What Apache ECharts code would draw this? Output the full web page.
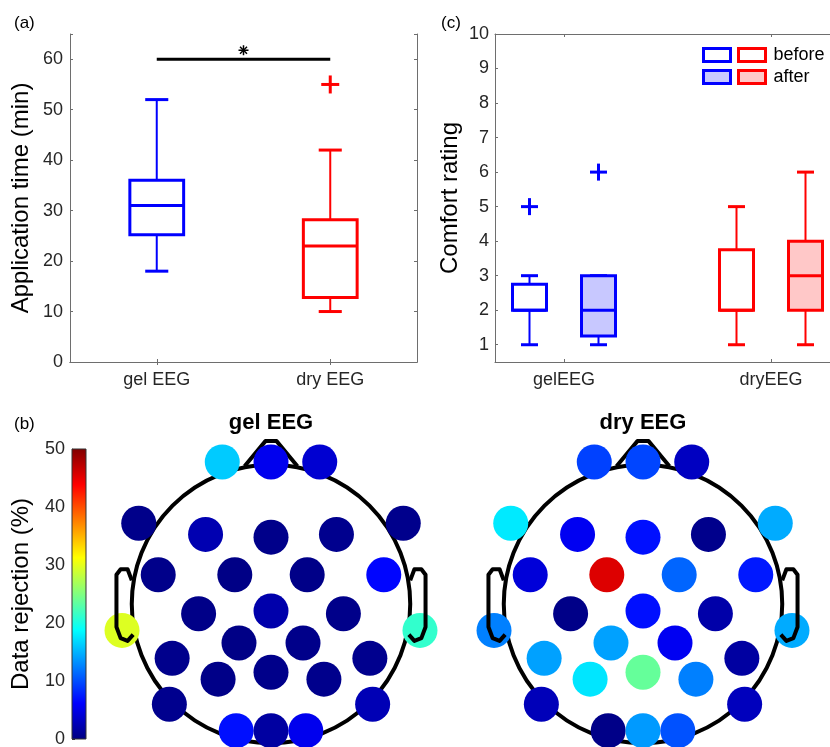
<!DOCTYPE html>
<html>
<head>
<meta charset="utf-8">
<script src="https://cdn.jsdelivr.net/npm/echarts@6/dist/echarts.min.js"></script>
<style>
  html, body { margin: 0; padding: 0; background: #fff; }
  #chart { width: 830px; height: 747px; }
</style>
</head>
<body>
<div id="chart"></div>
<script>
// (a) application time, box stats = [low whisker, q1, median, q3, high whisker]
var appGroups = ['gel EEG', 'dry EEG'];
var appTimeGel = [18, 25.2, 31, 36, 52];
var appTimeDry = [10, 12.8, 23, 28.2, 42];
var appTimeOutliers = [[1, 55]];
var appSignificance = [[0, 1, 60]];

// (c) comfort rating
var comfortGroups = ['', 'gelEEG', '', '', 'dryEEG', ''];
var comfortPos = [1, 2, 4, 5];
var comfortGelBefore = [1, 2, 2, 2.75, 3];
var comfortGelAfter = [1, 1.25, 2, 3, 3];
var comfortDryBefore = [1, 2, 2, 3.75, 5];
var comfortDryAfter = [1, 2, 3, 4, 6];
var comfortOutliers = [[1, 5], [2, 6]];

// (b) data rejection per electrode (%)
var electrodes = ['Fp1', 'Fpz', 'Fp2', 'F7', 'F3', 'Fz', 'F4', 'F8', 'FC5', 'FC1', 'FC2', 'FC6',
  'T7', 'C3', 'Cz', 'C4', 'T8', 'CP5', 'CP1', 'CP2', 'CP6', 'P7', 'P3', 'Pz', 'P4', 'P8', 'O1', 'Oz', 'O2'];
var electrodeX = [-0.35, 0, 0.35, -0.95, -0.47, 0, 0.47, 0.95, -0.81, -0.26, 0.26, 0.81,
  -1.07, -0.52, 0, 0.52, 1.07, -0.71, -0.23, 0.23, 0.71, -0.73, -0.38, 0, 0.38, 0.73, -0.25, 0, 0.25];
var electrodeY = [1.02, 1.02, 1.02, 0.58, 0.50, 0.48, 0.50, 0.58, 0.21, 0.21, 0.21, 0.21,
  -0.19, -0.07, -0.05, -0.07, -0.19, -0.39, -0.28, -0.28, -0.39, -0.72, -0.54, -0.49, -0.54, -0.72, -0.91, -0.91, -0.91];
var gelRejection = [16.2, 5.4, 4.0, 0.5, 2.4, 0.5, 0.7, 0.6, 0.5, 0.3, 0.4, 6.5,
  29.6, 0.4, 2.1, 0.5, 21.2, 0.6, 0.3, 0.5, 0.7, 0.7, 0.4, 0.5, 0.6, 2.6, 7.0, 1.6, 5.4];
var dryRejection = [9.4, 9.6, 3.2, 17.7, 5.6, 7.0, 0.6, 14.6, 4.4, 45.4, 11.2, 7.4,
  12.5, 0.4, 7.0, 2.0, 14.6, 14.1, 14.1, 5.6, 1.6, 2.8, 17.5, 23.7, 12.5, 3.0, 0.4, 13.8, 10.2];

// head outline (head radius = 1)
var noseX = [-0.19, -0.04, 0.04, 0.19];
var noseY = [0.99, 1.17, 1.17, 0.99];
var earX = [-1.0, -1.03, -1.08, -1.11, -1.11, -1.08, -1.03, -0.99];
var earY = [0.17, 0.25, 0.25, 0.21, -0.165, -0.245, -0.265, -0.22];

var jet = ['#000080', '#0000ff', '#0080ff', '#00ffff', '#80ff80', '#ffff00', '#ff8000', '#ff0000', '#800000'];

var blue = '#0000ff', red = '#ff0000';
var axisColor = '#6e6e6e';
var textColor = '#262626';
var font = 'Liberation Sans, Arial, sans-serif';

var chart = echarts.init(document.getElementById('chart'), null, { renderer: 'canvas' });

function line(x1, y1, x2, y2, color, w) {
  return { type: 'line', shape: { x1: x1, y1: y1, x2: x2, y2: y2 }, style: { stroke: color, lineWidth: w } };
}

function drawBox(api, x, s, color, fill, boxW, capW) {
  var p = s.map(function (v) { return api.coord([x, v]); });
  var cx = p[0][0];
  return {
    type: 'group',
    children: [
      line(cx, p[0][1], cx, p[1][1], color, 2),
      line(cx, p[3][1], cx, p[4][1], color, 2),
      line(cx - capW / 2, p[0][1], cx + capW / 2, p[0][1], color, 3),
      line(cx - capW / 2, p[4][1], cx + capW / 2, p[4][1], color, 3),
      {
        type: 'rect',
        shape: { x: cx - boxW / 2, y: p[3][1], width: boxW, height: p[1][1] - p[3][1] },
        style: { fill: fill, stroke: color, lineWidth: 3 }
      },
      line(cx - boxW / 2, p[2][1], cx + boxW / 2, p[2][1], color, 3)
    ]
  };
}

function plusMark(api, x, v, color, half) {
  var p = api.coord([x, v]);
  return {
    type: 'group',
    children: [
      line(p[0] - half, p[1], p[0] + half, p[1], color, 3),
      line(p[0], p[1] - half, p[0], p[1] + half, color, 3)
    ]
  };
}

var appColors = [blue, red];
var appBoxes = [[0].concat(appTimeGel), [1].concat(appTimeDry)];

function comfortSeries(name, idx, stats, color, fill) {
  return {
    name: name,
    type: 'custom',
    xAxisIndex: 4,
    yAxisIndex: 2,
    itemStyle: { color: color },
    data: [[comfortPos[idx]].concat(stats)],
    renderItem: function (params, api) {
      var x = api.value(0);
      var s = [api.value(1), api.value(2), api.value(3), api.value(4), api.value(5)];
      return drawBox(api, x, s, color, fill, 34, 17);
    }
  };
}

function headSeries(xi, yi) {
  return {
    type: 'custom',
    xAxisIndex: xi,
    yAxisIndex: yi,
    z: 2,
    silent: true,
    data: [[0, 0]],
    renderItem: function (params, api) {
      var c = api.coord([0, 0]);
      var r = api.size([1, 0])[0];
      var nose = noseX.map(function (x, i) { return api.coord([x, noseY[i]]); });
      return {
        type: 'group',
        children: [
          { type: 'circle', shape: { cx: c[0], cy: c[1], r: r }, style: { fill: 'none', stroke: '#000', lineWidth: 4 } },
          { type: 'polyline', shape: { points: nose }, style: { fill: 'none', stroke: '#000', lineWidth: 4, lineJoin: 'round' } }
        ]
      };
    }
  };
}

function earSeries(xi, yi) {
  return {
    type: 'custom',
    xAxisIndex: xi,
    yAxisIndex: yi,
    z: 4,
    silent: true,
    data: [[0, 0]],
    renderItem: function (params, api) {
      var left = earX.map(function (x, i) { return api.coord([x, earY[i]]); });
      var right = earX.map(function (x, i) { return api.coord([-x, earY[i]]); });
      return {
        type: 'group',
        children: [
          { type: 'polyline', shape: { points: left }, style: { fill: 'none', stroke: '#000', lineWidth: 4, lineJoin: 'round' } },
          { type: 'polyline', shape: { points: right }, style: { fill: 'none', stroke: '#000', lineWidth: 4, lineJoin: 'round' } }
        ]
      };
    }
  };
}

function electrodeSeries(name, xi, yi, values) {
  return {
    name: name,
    type: 'scatter',
    xAxisIndex: xi,
    yAxisIndex: yi,
    z: 3,
    symbolSize: 35,
    itemStyle: { opacity: 1 },
    data: electrodeX.map(function (x, i) { return [x, electrodeY[i], values[i], electrodes[i]]; })
  };
}

var hidden = { show: false };
var tickIn = { show: true, inside: true, length: 3, lineStyle: { color: axisColor } };
var lineStyleAxis = { show: true, lineStyle: { color: axisColor, width: 1 } };
var labelStyle = { color: textColor, fontSize: 18, fontFamily: font };
var headRange = { min: -1.3, max: 1.3 };

var option = {
  animation: false,
  backgroundColor: '#fff',
  title: [
    { text: '(a)', left: 14, top: 15, padding: 0, textStyle: { fontSize: 17, fontWeight: 'normal', color: '#000', fontFamily: font } },
    { text: '(c)', left: 441, top: 15, padding: 0, textStyle: { fontSize: 17, fontWeight: 'normal', color: '#000', fontFamily: font } },
    { text: '(b)', left: 14, top: 416, padding: 0, textStyle: { fontSize: 17, fontWeight: 'normal', color: '#000', fontFamily: font } },
    { text: 'gel EEG', left: 271, top: 412, padding: 0, textAlign: 'center', textStyle: { fontSize: 22, fontWeight: 'bold', color: '#000', fontFamily: font } },
    { text: 'dry EEG', left: 643, top: 412, padding: 0, textAlign: 'center', textStyle: { fontSize: 22, fontWeight: 'bold', color: '#000', fontFamily: font } }
  ],
  legend: [
    {
      left: 702, top: 46, orient: 'vertical', padding: 0, itemGap: 4,
      itemWidth: 27, itemHeight: 13, icon: 'rect', selectedMode: false,
      formatter: function () { return ' '; },
      textStyle: { fontSize: 18, fontFamily: font },
      data: [
        { name: 'gelBefore', itemStyle: { color: '#ffffff', borderColor: blue, borderWidth: 3 } },
        { name: 'gelAfter', itemStyle: { color: '#c8c8ff', borderColor: blue, borderWidth: 3 } }
      ]
    },
    {
      left: 737, top: 46, orient: 'vertical', padding: 0, itemGap: 4,
      itemWidth: 27, itemHeight: 13, icon: 'rect', selectedMode: false,
      formatter: function (name) { return name === 'dryBefore' ? 'before' : 'after'; },
      textStyle: { fontSize: 18, color: '#000', fontFamily: font, padding: [0, 0, 0, 3] },
      data: [
        { name: 'dryBefore', itemStyle: { color: '#ffffff', borderColor: red, borderWidth: 3 } },
        { name: 'dryAfter', itemStyle: { color: '#ffc8c8', borderColor: red, borderWidth: 3 } }
      ]
    }
  ],
  visualMap: {
    type: 'continuous',
    show: false,
    min: 0,
    max: 50,
    dimension: 2,
    seriesIndex: [10, 11],
    inRange: { color: jet }
  },
  grid: [
    { left: 70, top: 34, width: 347, height: 328, outerBoundsMode: 'none' },
    { left: 495, top: 34, width: 345, height: 328, outerBoundsMode: 'none' },
    { left: 72, top: 449, width: 14, height: 290, outerBoundsMode: 'none' },
    { left: 90, top: 423, width: 362, height: 362, outerBoundsMode: 'none' },
    { left: 462, top: 423, width: 362, height: 362, outerBoundsMode: 'none' }
  ],
  xAxis: [
    {
      gridIndex: 0, type: 'category', data: appGroups, position: 'bottom',
      axisLine: lineStyleAxis, axisTick: Object.assign({ alignWithLabel: true }, tickIn),
      axisLabel: Object.assign({ margin: 9 }, labelStyle), splitLine: hidden
    },
    {
      gridIndex: 0, type: 'category', data: appGroups, position: 'top',
      axisLine: lineStyleAxis, axisTick: Object.assign({ alignWithLabel: true }, tickIn),
      axisLabel: hidden, splitLine: hidden
    },
    {
      gridIndex: 1, type: 'category', data: comfortGroups, boundaryGap: false, position: 'bottom',
      axisLine: lineStyleAxis,
      axisTick: Object.assign({ interval: function (i, v) { return v !== ''; } }, tickIn),
      axisLabel: Object.assign({ margin: 9, interval: function (i, v) { return v !== ''; } }, labelStyle),
      splitLine: hidden
    },
    {
      gridIndex: 1, type: 'category', data: comfortGroups, boundaryGap: false, position: 'top',
      axisLine: lineStyleAxis,
      axisTick: Object.assign({ interval: function (i, v) { return v !== ''; } }, tickIn),
      axisLabel: hidden, splitLine: hidden
    },
    { gridIndex: 1, type: 'value', min: 0.5, max: 5.5, show: false },
    { gridIndex: 2, type: 'value', min: 0, max: 1, show: false },
    Object.assign({ gridIndex: 3, type: 'value', show: false }, headRange),
    Object.assign({ gridIndex: 4, type: 'value', show: false }, headRange)
  ],
  yAxis: [
    {
      gridIndex: 0, type: 'value', min: 0, max: 65, interval: 10,
      name: 'Application time (min)', nameLocation: 'middle', nameGap: 37,
      nameTextStyle: { fontSize: 24, color: '#000', fontFamily: font },
      axisLine: lineStyleAxis, axisTick: tickIn, splitLine: hidden,
      axisLabel: Object.assign({ margin: 7, formatter: function (v) { return v > 60 ? '' : v; } }, labelStyle)
    },
    {
      gridIndex: 0, type: 'value', min: 0, max: 65, interval: 10, position: 'right',
      axisLine: lineStyleAxis, axisTick: tickIn, splitLine: hidden, axisLabel: hidden
    },
    {
      gridIndex: 1, type: 'value', min: 0.5, max: 10, splitNumber: 10,
      name: 'Comfort rating', nameLocation: 'middle', nameGap: 33,
      nameTextStyle: { fontSize: 24, color: '#000', fontFamily: font },
      axisLine: lineStyleAxis, axisTick: tickIn, splitLine: hidden,
      axisLabel: Object.assign({ margin: 6, formatter: function (v) { return Math.round(v) === v ? v : ''; } }, labelStyle)
    },
    {
      gridIndex: 2, type: 'value', min: 0, max: 50, interval: 10,
      name: 'Data rejection (%)', nameLocation: 'middle', nameGap: 39,
      nameTextStyle: { fontSize: 24, color: '#000', fontFamily: font },
      axisLine: lineStyleAxis, axisTick: { show: true, inside: true, length: 3, lineStyle: { color: '#333' } },
      splitLine: hidden, axisLabel: Object.assign({ margin: 7 }, labelStyle)
    },
    Object.assign({ gridIndex: 3, type: 'value', show: false }, headRange),
    Object.assign({ gridIndex: 4, type: 'value', show: false }, headRange)
  ],
  series: [
    // 0: application time boxes
    {
      type: 'custom', xAxisIndex: 0, yAxisIndex: 0,
      data: appBoxes,
      renderItem: function (params, api) {
        var x = api.value(0);
        var s = [api.value(1), api.value(2), api.value(3), api.value(4), api.value(5)];
        var band = api.size([1, 0])[0];
        return drawBox(api, x, s, appColors[params.dataIndex], 'none', band * 0.31, band * 0.133);
      }
    },
    // 1: outliers
    {
      type: 'custom', xAxisIndex: 0, yAxisIndex: 0,
      data: appTimeOutliers,
      renderItem: function (params, api) {
        return plusMark(api, api.value(0), api.value(1), appColors[api.value(0)], 9);
      }
    },
    // 2: significance bar
    {
      type: 'custom', xAxisIndex: 0, yAxisIndex: 0,
      data: appSignificance,
      renderItem: function (params, api) {
        var a = api.coord([api.value(0), api.value(2)]);
        var b = api.coord([api.value(1), api.value(2)]);
        var mx = (a[0] + b[0]) / 2, my = a[1] - 9, h = 5, d = 3.5;
        return {
          type: 'group',
          children: [
            line(a[0], a[1], b[0], b[1], '#000', 3),
            line(mx - h, my, mx + h, my, '#000', 1.5),
            line(mx, my - h, mx, my + h, '#000', 1.5),
            line(mx - d, my - d, mx + d, my + d, '#000', 1.5),
            line(mx - d, my + d, mx + d, my - d, '#000', 1.5)
          ]
        };
      }
    },
    // 3-6: comfort boxes
    comfortSeries('gelBefore', 0, comfortGelBefore, blue, 'none'),
    comfortSeries('gelAfter', 1, comfortGelAfter, blue, '#c8c8ff'),
    comfortSeries('dryBefore', 2, comfortDryBefore, red, 'none'),
    comfortSeries('dryAfter', 3, comfortDryAfter, red, '#ffc8c8'),
    // 7: comfort outliers
    {
      type: 'custom', xAxisIndex: 4, yAxisIndex: 2,
      data: comfortOutliers,
      renderItem: function (params, api) {
        return plusMark(api, api.value(0), api.value(1), blue, 8.5);
      }
    },
    // 8-9: head outlines
    headSeries(6, 4),
    headSeries(7, 5),
    // 10-11: electrodes
    electrodeSeries('gel EEG', 6, 4, gelRejection),
    electrodeSeries('dry EEG', 7, 5, dryRejection),
    // 12-13: ears
    earSeries(6, 4),
    earSeries(7, 5),
    // 14: colorbar
    {
      type: 'custom', xAxisIndex: 5, yAxisIndex: 3, silent: true,
      data: [[0, 0, 1, 50]],
      renderItem: function (params, api) {
        var p0 = api.coord([api.value(0), api.value(1)]);
        var p1 = api.coord([api.value(2), api.value(3)]);
        var stops = jet.map(function (c, i) { return { offset: i / (jet.length - 1), color: c }; });
        return {
          type: 'rect',
          shape: { x: p0[0], y: p1[1], width: p1[0] - p0[0], height: p0[1] - p1[1] },
          style: { fill: new echarts.graphic.LinearGradient(0, 1, 0, 0, stops), stroke: '#333', lineWidth: 1 }
        };
      }
    }
  ]
};

chart.setOption(option);
</script>
</body>
</html>
